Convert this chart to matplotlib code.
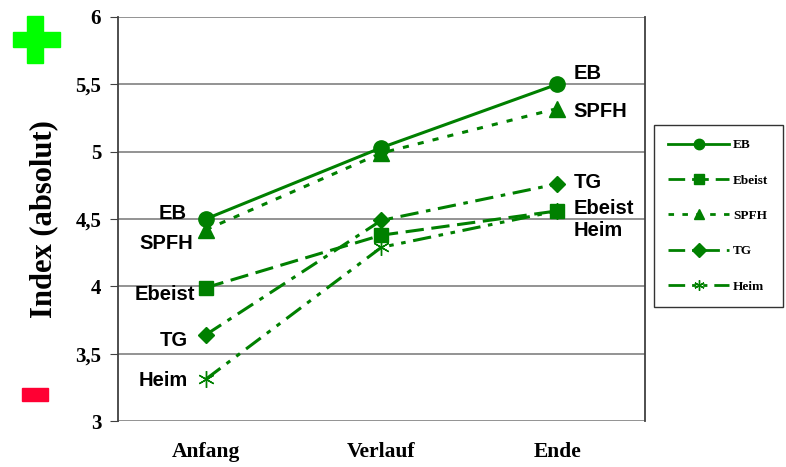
import matplotlib
matplotlib.use("Agg")
import matplotlib.pyplot as plt
from matplotlib.patches import Rectangle

# ---- data -----------------------------------------------------------
phases = ["Anfang", "Verlauf", "Ende"]
eb = [4.50, 5.03, 5.50]
ebeist = [3.99, 4.38, 4.56]
spfh = [4.42, 4.99, 5.32]
tg = [3.64, 4.49, 4.76]
heim = [3.31, 4.29, 4.56]

y_ticks = [3, 3.5, 4, 4.5, 5, 5.5, 6]
y_tick_labels = ["3", "3,5", "4", "4,5", "5", "5,5", "6"]

GREEN = "#008000"
serif = "Liberation Serif"
sans = "Liberation Sans"

fig = plt.figure(figsize=(7.86, 4.67), dpi=100)
ax = fig.add_axes([0.150, 0.0985, 0.6706, 0.8651])

x = range(len(phases))
series = [
    ("EB", eb, "-", "o", 11),
    ("Ebeist", ebeist, (0, (6, 2.5)), "s", 10),
    ("SPFH", spfh, (0, (2, 3)), "^", 11),
    ("TG", tg, (0, (6, 2.5, 1.5, 2.5)), "D", 8),
    ("Heim", heim, (0, (6, 2.5, 1.5, 2.5, 1.5, 2.5)), (6, 2, 0), 12),
]
for name, vals, ls, mk, ms in series:
    ax.plot(x, vals, color=GREEN, linestyle=ls, linewidth=2.2,
            marker=mk, markersize=ms, markeredgewidth=1.0,
            label=name, zorder=3)

ax.set_xlim(-0.5, 2.5)
ax.set_ylim(3, 6)
ax.set_yticks(y_ticks)
ax.set_yticklabels(y_tick_labels, fontfamily=serif, fontweight="bold", fontsize=15)
ax.set_xticks(list(x))
ax.set_xticklabels(phases, fontfamily=serif, fontweight="bold", fontsize=15.5)
ax.tick_params(axis="x", length=0, pad=15)
ax.tick_params(axis="y", length=6, direction="out", color="#404040", pad=6)
ax.yaxis.grid(True, color="#808080", linewidth=1.2)
ax.set_axisbelow(True)
for side in ["top", "bottom"]:
    ax.spines[side].set_visible(False)
for side in ["left", "right"]:
    ax.spines[side].set_color("#404040")
    ax.spines[side].set_linewidth(1.3)
ax.set_ylabel("Index (absolut)", fontfamily=serif, fontweight="bold",
              fontsize=22, labelpad=12)

# ---- point labels ----------------------------------------------------
lab = dict(fontfamily=sans, fontweight="bold", fontsize=14.5, color="black")
left = [("EB", eb[0], 4, -14), ("SPFH", spfh[0], -10, -9), ("Ebeist", ebeist[0], -5, -8),
        ("TG", tg[0], -4, -13), ("Heim", heim[0], -1, -13)]
for txt, v, dy, dx in left:
    ax.annotate(txt, (0, v), xytext=(dx, dy), textcoords="offset points",
                ha="right", va="center", **lab)
right = [("EB", eb[2], 8), ("SPFH", spfh[2], -2), ("TG", tg[2], 1),
         ("Ebeist", ebeist[2], 2), ("Heim", heim[2], -14)]
for txt, v, dy in right:
    ax.annotate(txt, (2, v), xytext=(12, dy), textcoords="offset points",
                ha="left", va="center", **lab)

# ---- legend ----------------------------------------------------------
leg = fig.legend(loc="upper left", bbox_to_anchor=(0.832, 0.733),
                 prop={"family": serif, "weight": "bold", "size": 9.5},
                 frameon=True, fancybox=False, edgecolor="black",
                 labelspacing=1.75, handlelength=4.6, borderpad=1.1,
                 handletextpad=0.3, borderaxespad=0)
leg.get_frame().set_linewidth(1.0)
for h in leg.legend_handles:
    h.set_markersize(7.5)
    h.set_linewidth(2.0)

# ---- plus / minus signs ----------------------------------------------
W, H = 786, 467
def box(x0, y0, x1, y1, c):
    fig.patches.append(Rectangle((x0 / W, 1 - y1 / H), (x1 - x0) / W, (y1 - y0) / H,
                                 transform=fig.transFigure, color=c, zorder=5))
box(13, 32, 60, 47, "#00ff00")
box(27, 16, 43, 63, "#00ff00")
box(22, 388, 48, 401, "#ff0033")

fig.savefig("out.png", dpi=100)
